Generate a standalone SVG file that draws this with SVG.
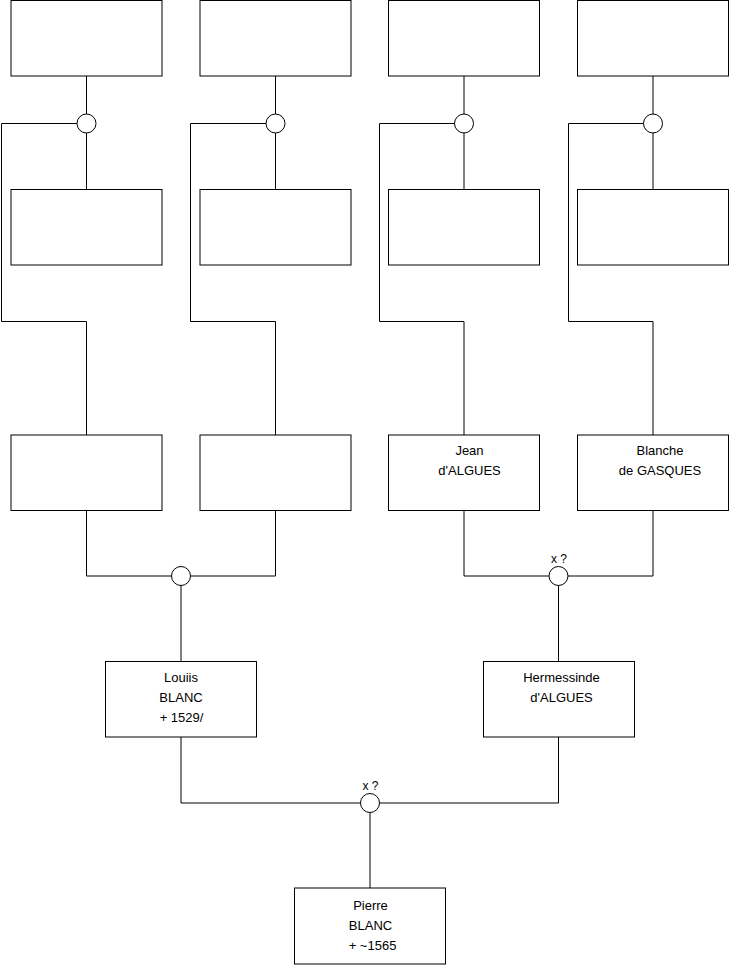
<svg xmlns="http://www.w3.org/2000/svg" width="740" height="975" viewBox="0 0 740 975">
<style>
.box{fill:#fff;stroke:#000;stroke-width:1}
.ln{fill:none;stroke:#000;stroke-width:1}
.ci{fill:#fff;stroke:#000;stroke-width:1}
text{font-family:"Liberation Sans",Arial,sans-serif;font-size:13px;fill:#000;text-anchor:middle}
.sm{font-size:12px}
</style>
<rect width="740" height="975" fill="#fff"/>
<g id="connectors">
<path class="ln" d="M86.5 76V189.5M275.5 76V189.5M464 76V189.5M653 76V189.5"/>
<path class="ln" d="M77 123.5H1.5V321.5H86.5V435"/>
<path class="ln" d="M266 123.5H190.5V321.5H275.5V435"/>
<path class="ln" d="M454.5 123.5H379.5V321.5H464V435"/>
<path class="ln" d="M643.5 123.5H568.5V321.5H653V435"/>
<path class="ln" d="M86.5 510.5V576H275.5V510.5M181 576V661.5"/>
<path class="ln" d="M464 510.5V576H653V510.5M558.5 576V661.5"/>
<path class="ln" d="M181 737V803H558.5V737M370 803V888"/>
</g>
<g id="c1"><circle class="ci" cx="86.5" cy="123.5" r="9.5"/></g>
<g id="c2"><circle class="ci" cx="275.5" cy="123.5" r="9.5"/></g>
<g id="c3"><circle class="ci" cx="464" cy="123.5" r="9.5"/></g>
<g id="c4"><circle class="ci" cx="653" cy="123.5" r="9.5"/></g>
<g id="c5"><circle class="ci" cx="181" cy="576" r="9.5"/></g>
<g id="c6"><circle class="ci" cx="558.5" cy="576" r="9.5"/><text class="sm" x="559" y="563">x ?</text></g>
<g id="c7"><circle class="ci" cx="370" cy="803" r="9.5"/><text class="sm" x="370.5" y="790">x ?</text></g>
<g id="n1"><rect class="box" x="11" y="0.5" width="151" height="75.5"/></g>
<g id="n2"><rect class="box" x="200" y="0.5" width="151" height="75.5"/></g>
<g id="n3"><rect class="box" x="388.5" y="0.5" width="151" height="75.5"/></g>
<g id="n4"><rect class="box" x="577.5" y="0.5" width="151" height="75.5"/></g>
<g id="n5"><rect class="box" x="11" y="189.5" width="151" height="75.5"/></g>
<g id="n6"><rect class="box" x="200" y="189.5" width="151" height="75.5"/></g>
<g id="n7"><rect class="box" x="388.5" y="189.5" width="151" height="75.5"/></g>
<g id="n8"><rect class="box" x="577.5" y="189.5" width="151" height="75.5"/></g>
<g id="n9"><rect class="box" x="11" y="435" width="151" height="75.5"/></g>
<g id="n10"><rect class="box" x="200" y="435" width="151" height="75.5"/></g>
<g id="n11"><rect class="box" x="388.5" y="435" width="151" height="75.5"/><text x="469.5" y="455">Jean</text><text x="469.5" y="475">d'ALGUES</text></g>
<g id="n12"><rect class="box" x="577.5" y="435" width="151" height="75.5"/><text x="660" y="455">Blanche</text><text x="660" y="475">de GASQUES</text></g>
<g id="n13"><rect class="box" x="105.5" y="661.5" width="151" height="75.5"/><text x="181" y="682">Louiis</text><text x="181" y="702">BLANC</text><text x="181.5" y="722">+ 1529/</text></g>
<g id="n14"><rect class="box" x="483.5" y="661.5" width="151" height="75.5"/><text x="561.5" y="682">Hermessinde</text><text x="561.5" y="702">d'ALGUES</text></g>
<g id="n15"><rect class="box" x="294.5" y="888" width="151" height="76"/><text x="370.5" y="910">Pierre</text><text x="370.5" y="930">BLANC</text><text x="372.5" y="950">+ ~1565</text></g>
</svg>
